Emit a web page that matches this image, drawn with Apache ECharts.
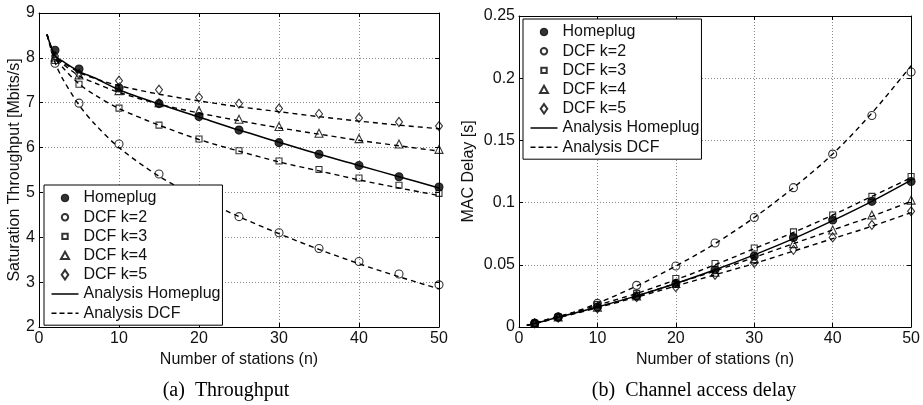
<!DOCTYPE html>
<html>
<head>
<meta charset="utf-8">
<script src="https://cdn.jsdelivr.net/npm/echarts@6/dist/echarts.min.js"></script>
<style>html,body{margin:0;padding:0;background:#fff}#c{width:923px;height:405px}</style>
</head>
<body>
<div id="c"></div>
<script>
// ---- data ----
const stations = [2, 5, 10, 15, 20, 25, 30, 35, 40, 45, 50];
const analysisN = [1, 2, 3, 5, 7, 10, 15, 20, 25, 30, 35, 40, 45, 50];

// (a) Throughput [Mbits/s]
const thrHomeplug = [8.17, 7.75, 7.33, 6.98, 6.69, 6.39, 6.11, 5.85, 5.60, 5.35, 5.12];
const thrK2 = [7.88, 6.99, 6.08, 5.41, 4.90, 4.46, 4.10, 3.75, 3.46, 3.18, 2.94];
const thrK3 = [7.94, 7.41, 6.88, 6.50, 6.19, 5.93, 5.70, 5.51, 5.32, 5.16, 4.98];
const thrK4 = [8.02, 7.62, 7.27, 7.00, 6.82, 6.63, 6.47, 6.32, 6.20, 6.08, 5.96];
const thrK5 = [8.04, 7.64, 7.49, 7.29, 7.12, 6.98, 6.87, 6.75, 6.66, 6.57, 6.48];
const thrAnaHomeplug = [8.52, 8.05, 7.92, 7.70, 7.55, 7.29, 6.97, 6.68, 6.39, 6.12, 5.85, 5.60, 5.35, 5.10];
const thrAnaK2 = [8.52, 7.90, 7.52, 6.95, 6.52, 6.00, 5.36, 4.88, 4.46, 4.08, 3.73, 3.41, 3.12, 2.85];
const thrAnaK3 = [8.52, 8.00, 7.78, 7.42, 7.17, 6.87, 6.50, 6.18, 5.92, 5.68, 5.48, 5.28, 5.10, 4.93];
const thrAnaK4 = [8.52, 8.02, 7.86, 7.60, 7.44, 7.23, 6.97, 6.77, 6.60, 6.44, 6.30, 6.16, 6.04, 5.92];
const thrAnaK5 = [8.52, 8.04, 7.90, 7.68, 7.54, 7.38, 7.19, 7.04, 6.91, 6.80, 6.69, 6.59, 6.50, 6.42];

// (b) MAC delay [s]
const delHomeplug = [0.003, 0.008, 0.016, 0.025, 0.035, 0.046, 0.057, 0.072, 0.086, 0.101, 0.117];
const delK2 = [0.003, 0.008, 0.019, 0.0335, 0.049, 0.0675, 0.088, 0.112, 0.139, 0.170, 0.205];
const delK3 = [0.003, 0.008, 0.018, 0.027, 0.039, 0.051, 0.0635, 0.0765, 0.090, 0.105, 0.121];
const delK4 = [0.003, 0.008, 0.016, 0.025, 0.035, 0.044, 0.055, 0.067, 0.078, 0.090, 0.102];
const delK5 = [0.003, 0.0075, 0.015, 0.024, 0.032, 0.042, 0.0515, 0.062, 0.072, 0.082, 0.093];
const delAnaHomeplug = [0.0013, 0.0028, 0.0045, 0.0078, 0.011, 0.016, 0.025, 0.035, 0.046, 0.058, 0.071, 0.0855, 0.101, 0.118];
const delAnaK2 = [0.0013, 0.0030, 0.0050, 0.0085, 0.012, 0.019, 0.033, 0.049, 0.067, 0.088, 0.112, 0.139, 0.172, 0.210];
const delAnaK3 = [0.0013, 0.0030, 0.0048, 0.0082, 0.0115, 0.0175, 0.027, 0.038, 0.050, 0.063, 0.076, 0.090, 0.105, 0.120];
const delAnaK4 = [0.0013, 0.0028, 0.0045, 0.0078, 0.011, 0.016, 0.025, 0.035, 0.045, 0.056, 0.067, 0.078, 0.089, 0.101];
const delAnaK5 = [0.0013, 0.0027, 0.0043, 0.0075, 0.0105, 0.0155, 0.024, 0.033, 0.042, 0.051, 0.061, 0.071, 0.081, 0.092];

const legendNames = ['Homeplug', 'DCF k=2', 'DCF k=3', 'DCF k=4', 'DCF k=5', 'Analysis Homeplug', 'Analysis DCF'];
const xTicks = [0, 10, 20, 30, 40, 50];

// ---- build ----
const FONT = 'Liberation Sans';
const pairs = (xs, ys) => xs.map((x, i) => [x, ys[i]]);

function markerSeries(name, sym, size, filled, xs, ys, axis) {
  return {
    type: 'scatter', name, symbol: sym, symbolSize: size,
    xAxisIndex: axis, yAxisIndex: axis, z: 5,
    itemStyle: { color: filled ? '#000' : 'rgba(255,255,255,0)', borderColor: '#000', borderWidth: 1.1 },
    data: pairs(xs, ys)
  };
}
function lineSeries(name, dashed, xs, ys, axis) {
  return {
    type: 'line', name, smooth: 0.3, symbol: 'none', showSymbol: false,
    xAxisIndex: axis, yAxisIndex: axis, z: 3,
    lineStyle: { color: '#000', width: dashed ? 1.4 : 1.5, type: dashed ? [5, 4] : 'solid' },
    itemStyle: { color: '#000' },
    data: pairs(xs, ys)
  };
}

const grids = [
  { left: 39, top: 13, width: 400, height: 314 },
  { left: 519, top: 16, width: 395, height: 311 }
];

function mkX(gi, main) {
  return {
    type: 'value', gridIndex: gi, position: main ? 'bottom' : 'top',
    min: xTicks[0], max: xTicks[xTicks.length - 1], interval: 10,
    name: main ? 'Number of stations (n)' : '', nameLocation: 'middle', nameGap: 17,
    nameTextStyle: { fontFamily: FONT, fontSize: 16, color: '#111' },
    axisLine: { show: true, onZero: false, lineStyle: { color: '#000', width: 1 } },
    axisTick: { show: true, inside: true, length: 4, lineStyle: { color: '#000' } },
    axisLabel: { show: main, fontFamily: FONT, fontSize: 16, color: '#111', margin: 4 },
    splitLine: { show: main, lineStyle: { color: '#888', type: [1, 2], width: 1 } }
  };
}
function mkY(gi, main, opts) {
  return Object.assign({
    type: 'value', gridIndex: gi, position: main ? 'left' : 'right',
    nameLocation: 'middle',
    nameTextStyle: { fontFamily: FONT, fontSize: 16, color: '#111' },
    axisLine: { show: true, onZero: false, lineStyle: { color: '#000', width: 1 } },
    axisTick: { show: true, inside: true, length: 4, lineStyle: { color: '#000' } },
    axisLabel: { show: main, fontFamily: FONT, fontSize: 16, color: '#111', margin: 4 },
    splitLine: { show: main, lineStyle: { color: '#888', type: [1, 2], width: 1 } }
  }, opts);
}

// legend icons (padded paths keep small marker sizes; line icons span the item box)
const iconMap = {
  'Homeplug': 'path://M0,0M10,10M5,1.2A3.8,3.8,0,1,1,4.99,1.2Z',
  'DCF k=2': 'path://M0,0M10,10M5,1.8A3.2,3.2,0,1,1,4.99,1.8Z',
  'DCF k=3': 'path://M0,0M10,10M2.3,2.3L7.7,2.3L7.7,7.7L2.3,7.7Z',
  'DCF k=4': 'path://M0,0M10,10M5,1.2L9,8.3L1,8.3Z',
  'DCF k=5': 'path://M0,0M10,10M5,0.3L8.3,5L5,9.7L1.7,5Z',
  'Analysis Homeplug': 'path://M0,0M27,10M0,5L27,5',
  'Analysis DCF': 'path://M0,0M27,10M0,5L27,5'
};
function legendData() {
  return legendNames.map(n => {
    const item = { name: n, icon: iconMap[n] };
    if (n === 'Analysis Homeplug') item.itemStyle = { color: 'none', borderColor: '#000', borderWidth: 1.5, borderType: 'solid' };
    if (n === 'Analysis DCF') item.itemStyle = { color: 'none', borderColor: '#000', borderWidth: 1.4, borderType: [5, 3] };
    if (n === 'Homeplug') item.itemStyle = { color: '#000', borderColor: '#000', borderWidth: 1 };
    return item;
  });
}
const legendBase = {
  orient: 'vertical', z: 20,
  itemWidth: 27, itemHeight: 10, itemGap: 3.2,
  padding: [5, 2, 4, 5],
  backgroundColor: '#fff', borderColor: '#000', borderWidth: 1,
  textStyle: { fontFamily: FONT, fontSize: 16, color: '#111' },
  selectedMode: false
};

const series = [
  lineSeries('Analysis Homeplug', false, analysisN, thrAnaHomeplug, 0),
  lineSeries('Analysis DCF', true, analysisN, thrAnaK2, 0),
  lineSeries('Analysis DCF', true, analysisN, thrAnaK3, 0),
  lineSeries('Analysis DCF', true, analysisN, thrAnaK4, 0),
  lineSeries('Analysis DCF', true, analysisN, thrAnaK5, 0),
  markerSeries('Homeplug', 'circle', 8, true, stations, thrHomeplug, 0),
  markerSeries('DCF k=2', 'circle', 8, false, stations, thrK2, 0),
  markerSeries('DCF k=3', 'rect', 6, false, stations, thrK3, 0),
  markerSeries('DCF k=4', 'triangle', 8, false, stations, thrK4, 0),
  markerSeries('DCF k=5', 'diamond', [7, 9], false, stations, thrK5, 0),

  lineSeries('Analysis Homeplug', false, analysisN, delAnaHomeplug, 2),
  lineSeries('Analysis DCF', true, analysisN, delAnaK2, 2),
  lineSeries('Analysis DCF', true, analysisN, delAnaK3, 2),
  lineSeries('Analysis DCF', true, analysisN, delAnaK4, 2),
  lineSeries('Analysis DCF', true, analysisN, delAnaK5, 2),
  markerSeries('Homeplug', 'circle', 8, true, stations, delHomeplug, 2),
  markerSeries('DCF k=2', 'circle', 8, false, stations, delK2, 2),
  markerSeries('DCF k=3', 'rect', 6, false, stations, delK3, 2),
  markerSeries('DCF k=4', 'triangle', 8, false, stations, delK4, 2),
  markerSeries('DCF k=5', 'diamond', [7, 9], false, stations, delK5, 2)
];

const chart = echarts.init(document.getElementById('c'), null, { renderer: 'canvas' });
chart.setOption({
  animation: false,
  backgroundColor: '#fff',
  grid: grids,
  xAxis: [mkX(0, true), mkX(0, false), mkX(1, true), mkX(1, false)],
  yAxis: [
    mkY(0, true, { min: 2, max: 9, interval: 1, name: 'Saturation Throughput [Mbits/s]', nameGap: 15 }),
    mkY(0, false, { min: 2, max: 9, interval: 1 }),
    mkY(1, true, { min: 0, max: 0.25, interval: 0.05, name: 'MAC Delay [s]', nameGap: 42 }),
    mkY(1, false, { min: 0, max: 0.25, interval: 0.05 })
  ],
  legend: [
    Object.assign({}, legendBase, { left: 44, top: 185, data: legendData() }),
    Object.assign({}, legendBase, { left: 523, top: 19, data: legendData() })
  ],
  graphic: [
    { type: 'text', x: 226, y: 391, style: { text: '(a)  Throughput', font: '20px "Liberation Serif"', fill: '#000', align: 'center', verticalAlign: 'middle' } },
    { type: 'text', x: 694, y: 391, style: { text: '(b)  Channel access delay', font: '20px "Liberation Serif"', fill: '#000', align: 'center', verticalAlign: 'middle' } }
  ],
  series
});
</script>
</body>
</html>
